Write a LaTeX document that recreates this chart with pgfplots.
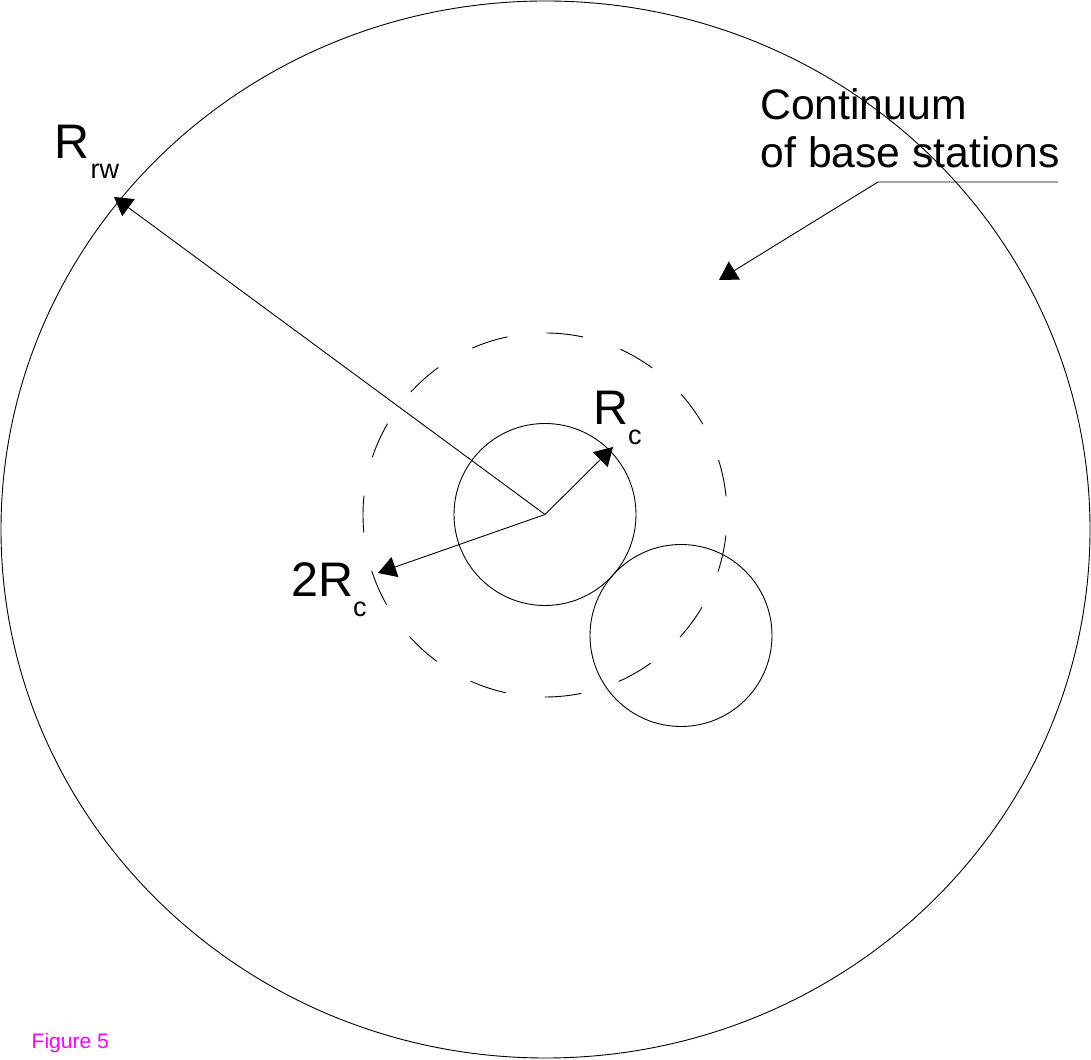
\documentclass[border=0pt]{standalone}
\usepackage{pgfplots}
\pgfplotsset{compat=1.18}
\usetikzlibrary{arrows.meta}
\usepackage{fontspec}
\setmainfont{Liberation Sans}
\definecolor{figmag}{RGB}{255,0,255}
\begin{document}
\begin{tikzpicture}
\begin{axis}[width=1091pt, height=1059pt, scale only axis,
  xmin=0, xmax=1091, ymin=0, ymax=1059, hide axis]
\draw[draw=none] (axis cs:0,0) rectangle (axis cs:1091,1059);
% outer boundary
\draw[line width=0.9pt] (axis cs:545.5,529.5) ellipse [x radius=544.5, y radius=528.5];
% cell circles
\draw[line width=0.9pt] (axis cs:545,544.5) circle [radius=91];
\draw[line width=0.9pt] (axis cs:681,423.5) circle [radius=91];
\draw[line width=0.9pt, dash pattern=on 37pt off 39.24pt, dash phase=57.5pt] (axis cs:545,544) circle [radius=182];
% arrows
\addplot[line width=0.9pt, -{Triangle[length=18pt, width=21pt]}] coordinates {(545,544.5) (114,862)};
\addplot[line width=0.9pt, -{Triangle[length=18pt, width=21pt]}] coordinates {(545,544.5) (613,612)};
\addplot[line width=0.9pt, -{Triangle[length=18pt, width=21pt]}] coordinates {(545,544.5) (378,486)};
\addplot[line width=0.9pt, -{Triangle[length=18pt, width=21pt]}] coordinates {(1058,877) (878,877) (719,779)};
% labels
\node[anchor=base west, inner sep=0pt, font=\fontsize{48.5}{58}\selectfont] at (axis cs:54.5,900) {R};
\node[anchor=base west, inner sep=0pt, font=\fontsize{27}{32}\selectfont] at (axis cs:90.5,880) {rw};
\node[anchor=base west, inner sep=0pt, font=\fontsize{48.5}{58}\selectfont] at (axis cs:593.5,634) {R};
\node[anchor=base west, inner sep=0pt, font=\fontsize{27}{32}\selectfont] at (axis cs:628,614) {c};
\node[anchor=base west, inner sep=0pt, font=\fontsize{48.5}{58}\selectfont] at (axis cs:291,462) {2R};
\node[anchor=base west, inner sep=0pt, font=\fontsize{27}{32}\selectfont] at (axis cs:353,442) {c};
\node[anchor=base west, inner sep=0pt, font=\fontsize{42.7}{51}\selectfont] at (axis cs:760,939) {Continuum};
\node[anchor=base west, inner sep=0pt, font=\fontsize{42.7}{51}\selectfont] at (axis cs:760.5,891) {of base stations};
\node[anchor=base west, inner sep=0pt, text=figmag, font=\fontsize{21}{25}\selectfont] at (axis cs:31.5,11) {Figure 5};
\end{axis}
\end{tikzpicture}
\end{document}
